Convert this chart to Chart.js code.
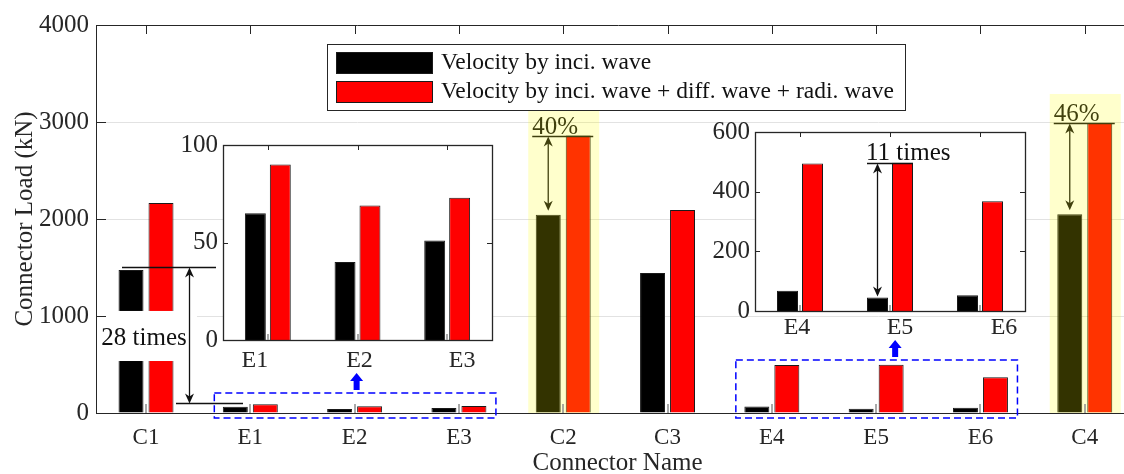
<!DOCTYPE html>
<html>
<head>
<meta charset="utf-8">
<script src="https://cdn.jsdelivr.net/npm/chart.js@4.4.0/dist/chart.umd.min.js"></script>
<style>
html, body { margin: 0; padding: 0; overflow: hidden; background: #fff; }
#wrap { position: relative; width: 1124px; height: 474px; overflow: hidden; }
canvas { position: absolute; }
#main { left: 0; top: 0; }
#inset1 { left: 175px; top: 125px; }
#inset2 { left: 705px; top: 112px; }
</style>
</head>
<body>
<div id="wrap">
<canvas id="main" width="1140" height="474"></canvas>
<canvas id="inset1" width="325" height="250"></canvas>
<canvas id="inset2" width="330" height="230"></canvas>
</div>
<script>
// données (kN)
const connectors = ['C1', 'E1', 'E2', 'E3', 'C2', 'C3', 'E4', 'E5', 'E6', 'C4'];
const inciWave = [1474, 65, 40, 51, 2045, 1443, 68, 45, 53, 2050];
const totalWave = [2165, 90, 69, 73, 2860, 2093, 494, 497, 368, 2990];
const seriesNames = ['Velocity by inci. wave', 'Velocity by inci. wave + diff. wave + radi. wave'];
const mainTicks = [0, 1000, 2000, 3000, 4000];
const inset1Idx = [1, 2, 3];
const inset1Ticks = [0, 50, 100];
const inset2Idx = [6, 7, 8];
const inset2Ticks = [0, 200, 400, 600];

// annotations
const highlighted = [4, 9];
const highlightTop = [3124, 3289];
const percentNotes = ['40%', '46%'];
const breakRange = [536, 1052];
const c1Note = { text: '28 times', top: 1505, bottom: 103, label: 773 };
const zoomBoxes = [
  { from: 1, to: 3, top: 206, arrowAt: 2, arrowShift: 2 },
  { from: 6, to: 8, top: 546, arrowAt: 7, arrowShift: 19 }
];
const e5Note = '11 times';
const inset1LabelShift = [-13, 2, 15];
const inset2LabelShift = [-3, 10, 24];

const FONT = 'Liberation Serif';
const TXT = '#262626';

function line(ctx, x1, y1, x2, y2) {
  ctx.beginPath();
  ctx.moveTo(x1, y1);
  ctx.lineTo(x2, y2);
  ctx.stroke();
}

function head(ctx, x, y, dir) {
  // dir = 1 : pointe vers le bas, -1 : vers le haut
  ctx.beginPath();
  ctx.moveTo(x, y);
  ctx.lineTo(x - 4.5, y - dir * 10);
  ctx.lineTo(x, y - dir * 7);
  ctx.lineTo(x + 4.5, y - dir * 10);
  ctx.closePath();
  ctx.fill();
}

function doubleArrow(ctx, x, y1, y2) {
  line(ctx, x, y1 + 3, x, y2 - 3);
  head(ctx, x, y1, -1);
  head(ctx, x, y2, 1);
}

function blueArrow(ctx, x, yBase, yTip) {
  ctx.fillStyle = '#0000ff';
  ctx.beginPath();
  ctx.moveTo(x - 3, yBase);
  ctx.lineTo(x - 3, yTip + 8);
  ctx.lineTo(x - 6.5, yTip + 8);
  ctx.lineTo(x, yTip);
  ctx.lineTo(x + 6.5, yTip + 8);
  ctx.lineTo(x + 3, yTip + 8);
  ctx.lineTo(x + 3, yBase);
  ctx.closePath();
  ctx.fill();
}

const mainDecor = {
  id: 'mainDecor',
  afterDatasetsDraw(chart) {
    const { ctx, chartArea: a, scales: { x, y } } = chart;
    const cx = i => x.getPixelForValue(i + 1);
    ctx.save();

    // coupure des barres C1
    const c1 = cx(0);
    const yHi = y.getPixelForValue(breakRange[1]);
    const yLo = y.getPixelForValue(breakRange[0]);
    ctx.fillStyle = '#fff';
    ctx.fillRect(a.left + 1.5, yHi, c1 + 51 - a.left - 1.5, yLo - yHi);
    ctx.fillStyle = '#111';
    ctx.font = '25px "' + FONT + '"';
    ctx.textAlign = 'center';
    ctx.textBaseline = 'middle';
    ctx.fillText(c1Note.text, c1 - 2, y.getPixelForValue(c1Note.label));

    // 28 times
    ctx.strokeStyle = '#111';
    ctx.lineWidth = 1.3;
    const yt = Math.round(y.getPixelForValue(c1Note.top)) + 0.5;
    const yb = Math.round(y.getPixelForValue(c1Note.bottom)) + 0.5;
    line(ctx, c1 - 24, yt, c1 + 70, yt);
    line(ctx, c1 + 30, yb, c1 + 97, yb);
    doubleArrow(ctx, c1 + 43.5, yt, yb);

    // 40 % et 46 %
    highlighted.forEach((idx, k) => {
      const c = cx(idx);
      const yr = Math.round(y.getPixelForValue(totalWave[idx])) + 0.5;
      const yk = y.getPixelForValue(inciWave[idx]);
      line(ctx, c - 31, yr, c + 30, yr);
      doubleArrow(ctx, c - 15, yr, yk - 4);
      ctx.textAlign = 'left';
      ctx.textBaseline = 'alphabetic';
      ctx.fillText(percentNotes[k], c - 31, yr - 3);
    });

    // cadres bleus
    ctx.strokeStyle = '#0000ff';
    ctx.lineWidth = 1.5;
    ctx.setLineDash([7, 4]);
    zoomBoxes.forEach(b => {
      const x1 = cx(b.from) - 36, x2 = cx(b.to) + 37;
      const y1 = y.getPixelForValue(b.top), y2 = a.bottom + 5;
      ctx.strokeRect(x1, y1, x2 - x1, y2 - y1);
    });
    ctx.setLineDash([]);
    zoomBoxes.forEach(b => {
      const y1 = y.getPixelForValue(b.top);
      blueArrow(ctx, cx(b.arrowAt) + b.arrowShift, y1 - 3, y1 - 20);
    });

    // bandes jaunes
    ctx.fillStyle = 'rgba(255,255,0,0.2)';
    highlighted.forEach((idx, k) => {
      const c = cx(idx);
      const top = y.getPixelForValue(highlightTop[k]);
      ctx.fillRect(c - 35, top, 71, a.bottom - top);
    });

    // graduations
    ctx.strokeStyle = TXT;
    ctx.lineWidth = 1;
    line(ctx, a.left, a.top + 0.5, a.right + 2, a.top + 0.5);
    connectors.forEach((c, i) => line(ctx, Math.round(cx(i)) + 0.5, a.top, Math.round(cx(i)) + 0.5, a.top + 9));
    mainTicks.slice(1, -1).forEach(v => {
      const p = Math.round(y.getPixelForValue(v)) + 0.5;
      line(ctx, a.left, p, a.left + 10, p);
    });
    ctx.strokeStyle = '#8c8c8c';
    ctx.lineWidth = 1.5;
    connectors.forEach((c, i) => line(ctx, Math.round(cx(i)), a.bottom, Math.round(cx(i)), a.bottom - 9));

    // légende
    const lx = 327, ly = 44, lw = 578, lh = 66;
    ctx.fillStyle = '#fff';
    ctx.fillRect(lx, ly, lw, lh);
    ctx.strokeStyle = TXT;
    ctx.lineWidth = 1;
    ctx.strokeRect(lx + 0.5, ly + 0.5, lw, lh);
    const swatch = ['#000000', '#ff0000'];
    ctx.font = '23.5px "' + FONT + '"';
    ctx.textAlign = 'left';
    ctx.textBaseline = 'middle';
    seriesNames.forEach((name, i) => {
      const sy = ly + 8 + i * 29;
      ctx.fillStyle = swatch[i];
      ctx.fillRect(336, sy, 97, 22);
      ctx.strokeStyle = '#1a1a1a';
      ctx.strokeRect(336.5, sy + 0.5, 96, 21);
      ctx.fillStyle = '#111';
      ctx.fillText(name, 441, sy + 11);
    });
    ctx.restore();
  }
};

function insetDecor(id, idx, shifts, labelGap, withNote) {
  return {
    id: id,
    beforeDatasetsDraw(chart) {
      const { ctx, chartArea: a } = chart;
      ctx.save();
      ctx.fillStyle = '#fff';
      ctx.fillRect(a.left, a.top, a.right - a.left, a.bottom - a.top);
      ctx.restore();
    },
    afterDatasetsDraw(chart) {
      const { ctx, chartArea: a, scales: { x, y } } = chart;
      ctx.save();
      ctx.strokeStyle = TXT;
      ctx.lineWidth = 1.3;
      ctx.strokeRect(a.left + 0.5, a.top + 0.5, a.right - a.left, a.bottom - a.top);
      ctx.lineWidth = 1;
      idx.forEach((d, i) => {
        const p = Math.round(x.getPixelForValue(i)) + 0.5;
        line(ctx, p, a.top, p, a.top + 5);
      });
      y.ticks.forEach(t => {
        const p = Math.round(y.getPixelForValue(t.value)) + 0.5;
        line(ctx, a.left, p, a.left + 5, p);
        line(ctx, a.right, p, a.right - 5, p);
      });
      ctx.strokeStyle = '#8c8c8c';
      ctx.lineWidth = 1.5;
      idx.forEach((d, i) => {
        const p = Math.round(x.getPixelForValue(i));
        line(ctx, p, a.bottom, p, a.bottom - 6);
      });
      // étiquettes des connecteurs
      ctx.fillStyle = TXT;
      ctx.font = '24px "' + FONT + '"';
      ctx.textAlign = 'center';
      ctx.textBaseline = 'middle';
      idx.forEach((d, i) => {
        ctx.fillText(connectors[d], x.getPixelForValue(i) + shifts[i], a.bottom + labelGap);
      });
      if (withNote) {
        const d = idx[1];
        const c = x.getPixelForValue(1);
        const yr = Math.round(y.getPixelForValue(totalWave[d])) + 0.5;
        const yk = y.getPixelForValue(inciWave[d]);
        ctx.strokeStyle = '#111';
        ctx.fillStyle = '#111';
        ctx.lineWidth = 1.3;
        line(ctx, c - 23, yr, c + 23, yr);
        doubleArrow(ctx, c - 12.5, yr, yk - 1);
        ctx.font = '25px "' + FONT + '"';
        ctx.textAlign = 'left';
        ctx.textBaseline = 'alphabetic';
        ctx.fillText(withNote, c - 24, yr - 4);
      }
      ctx.restore();
    }
  };
}

function barSet(label, values, color, catPct, barPct) {
  return {
    label: label,
    data: values,
    backgroundColor: color,
    borderColor: '#1a1a1a',
    borderWidth: 1,
    categoryPercentage: catPct,
    barPercentage: barPct
  };
}

const mainChart = new Chart(document.getElementById('main'), {
  type: 'bar',
  data: {
    datasets: [
      barSet(seriesNames[0], connectors.map((c, i) => ({ x: i + 1, y: inciWave[i] })), '#000000', 0.575, 0.833),
      barSet(seriesNames[1], connectors.map((c, i) => ({ x: i + 1, y: totalWave[i] })), '#ff0000', 0.575, 0.833)
    ]
  },
  options: {
    responsive: false,
    animation: false,
    devicePixelRatio: 1,
    layout: { padding: { left: 0, right: 1, top: 25, bottom: 0 } },
    plugins: { legend: { display: false }, tooltip: { enabled: false } },
    scales: {
      x: {
        type: 'linear',
        offset: false,
        min: 0.5206,
        max: 10.52,
        afterBuildTicks: s => { s.ticks = connectors.map((c, i) => ({ value: i + 1 })); },
        afterFit: s => { s.height = 61; },
        ticks: {
          callback: v => connectors[v - 1],
          font: { family: FONT, size: 23 },
          color: TXT,
          padding: 11,
          maxRotation: 0
        },
        grid: { display: false, drawTicks: false },
        border: { display: true, color: TXT },
        title: {
          display: true,
          text: 'Connector Name',
          font: { family: FONT, size: 25 },
          color: TXT,
          padding: { top: 0, bottom: -4 }
        }
      },
      y: {
        min: 0,
        max: 4000,
        afterBuildTicks: s => { s.ticks = mainTicks.map(v => ({ value: v })); },
        afterFit: s => { s.width = 96; },
        ticks: { callback: v => String(v), font: { family: FONT, size: 25 }, color: TXT, padding: 7 },
        grid: {
          drawTicks: false,
          color: c => (c.tick.value === 0 || c.tick.value === 4000) ? 'rgba(0,0,0,0)' : '#e2e2e2'
        },
        border: { display: true, color: TXT },
        title: {
          display: true,
          text: 'Connector Load (kN)',
          font: { family: FONT, size: 25 },
          color: TXT,
          padding: { top: 10, bottom: 0 }
        }
      }
    }
  },
  plugins: [mainDecor]
});

function insetChart(canvasId, idx, ticks, pad, yWidth, xHeight, shifts, labelGap, note) {
  return new Chart(document.getElementById(canvasId), {
    type: 'bar',
    data: {
      labels: idx.map(d => connectors[d]),
      datasets: [
        barSet(seriesNames[0], idx.map(d => inciWave[d]), '#000000', 0.556, 0.84),
        barSet(seriesNames[1], idx.map(d => totalWave[d]), '#ff0000', 0.556, 0.84)
      ]
    },
    options: {
      responsive: false,
      animation: false,
      devicePixelRatio: 1,
      layout: { padding: pad },
      plugins: { legend: { display: false }, tooltip: { enabled: false } },
      scales: {
        x: {
          afterFit: s => { s.height = xHeight; },
          ticks: { display: false },
          grid: { display: false, drawTicks: false },
          border: { display: false }
        },
        y: {
          min: ticks[0],
          max: ticks[ticks.length - 1],
          afterBuildTicks: s => { s.ticks = ticks.map(v => ({ value: v })); },
          afterFit: s => { s.width = yWidth; },
          ticks: { callback: v => String(v), font: { family: FONT, size: 25 }, color: TXT, padding: 5 },
          grid: { display: false, drawTicks: false },
          border: { display: false }
        }
      }
    },
    plugins: [insetDecor(canvasId + 'Decor', idx, shifts, labelGap, note)]
  });
}

insetChart('inset1', inset1Idx, inset1Ticks, { left: 0, right: 8, top: 14, bottom: 0 }, 48, 35, inset1LabelShift, 21, null);
insetChart('inset2', inset2Idx, inset2Ticks, { left: 0, right: 10, top: 13, bottom: 0 }, 50, 31, inset2LabelShift, 17, e5Note);
</script>
</body>
</html>
